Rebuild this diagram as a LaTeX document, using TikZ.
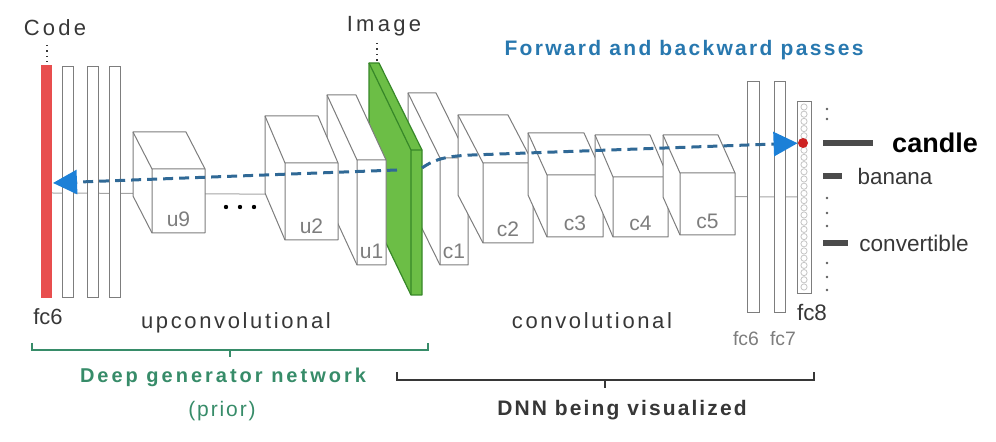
\documentclass[tikz,border=0pt]{standalone}
\usepackage{fontspec}
\setmainfont{Liberation Sans}
\usetikzlibrary{arrows.meta}

\definecolor{boxgray}{RGB}{125,125,125}
\definecolor{codered}{RGB}{232,78,78}
\definecolor{dotred}{RGB}{205,35,35}
\definecolor{slabgreen}{RGB}{108,190,70}
\definecolor{slabdark}{RGB}{55,135,40}
\definecolor{passblue}{RGB}{48,105,150}
\definecolor{tipblue}{RGB}{28,128,215}
\definecolor{titleblue}{RGB}{40,120,175}
\definecolor{priorgreen}{RGB}{55,140,105}
\definecolor{textdark}{RGB}{55,55,55}

\tikzset{
    layerbox/.style={draw=boxgray, fill=white, line width=0.5pt, line join=round},
    layerbar/.style={draw=boxgray, fill=white, line width=0.5pt},
    layerlabel/.style={text=boxgray, font=\fontsize{10.5}{12}\selectfont, inner sep=0pt},
    spaced/.style={inner sep=0pt, font=\fontsize{11}{13}\selectfont\addfontfeature{LetterSpace=#1}},
    pass/.style={passblue, line width=1.5pt, dash pattern=on 5pt off 3pt,
        -{Triangle[length=12pt, width=12pt, fill=tipblue, color=tipblue, sep=0pt]}},
    scorebar/.style={draw=textdark!90, line width=2.6pt},
    reddot/.style={circle, fill=dotred, minimum size=5pt, inner sep=0pt},
}

\begin{document}
\begin{tikzpicture}[x=0.5pt, y=-0.5pt]
        \useasboundingbox (0,0) rectangle (996,442);

        % axis behind the layers
        \draw[boxgray!70, line width=0.5pt] (52,193) -- (797,197);

        % generator: fc layers
        \fill[codered] (41,65) rectangle (52,298);
        \foreach \x in {62,87,109}
            \draw[layerbar] (\x,67) rectangle ({\x+11},298);
        \draw[textdark, dotted, line width=0.7pt] (47,45) -- (47,62);

        % convolutional boxes (right ones in front)
        \foreach \xa/\ya/\xb/\yb/\dx/\dy/\lab in {
                440/158/468/265/32/65/c1, 483/163/533/243/25/48/c2,
                547/175/603/237/19/42/c3, 613/177/668/237/18/42/c4,
                680/173/735/235/17/38/c5} {
            \filldraw[layerbox] ({\xa-\dx},{\ya-\dy}) -- ({\xb-\dx},{\ya-\dy}) -- (\xb,\ya) -- (\xb,\yb)
                -- (\xa,\yb) -- ({\xa-\dx},{\yb-\dy}) -- cycle;
            \draw[layerbox, fill=none] ({\xa-\dx},{\ya-\dy}) -- (\xa,\ya) -- (\xb,\ya) (\xa,\ya) -- (\xa,\yb);
            \node[layerlabel] (\lab) at ({(\xa+\xb)/2},{\yb-14}) {\lab};
        }

        % image slab
        \filldraw[fill=slabgreen, draw=slabdark, line width=0.6pt, line join=round]
            (369,63) -- (379,63) -- (422,150) -- (422,295) -- (411,295) -- (369,208) -- cycle;
        \draw[slabdark, line width=0.6pt] (369,63) -- (411,150) -- (422,150) (411,150) -- (411,295);
        \draw[textdark, dotted, line width=0.7pt] (377,43) -- (377,62);

        % upconvolutional boxes (left ones in front)
        \foreach \xa/\ya/\xb/\yb/\dx/\dy/\lab in {
                357/160/386/265/30/65/u1, 285/163/338/240/20/47/u2,
                152/169/205/233/19/37/u9} {
            \filldraw[layerbox] ({\xa-\dx},{\ya-\dy}) -- ({\xb-\dx},{\ya-\dy}) -- (\xb,\ya) -- (\xb,\yb)
                -- (\xa,\yb) -- ({\xa-\dx},{\yb-\dy}) -- cycle;
            \draw[layerbox, fill=none] ({\xa-\dx},{\ya-\dy}) -- (\xa,\ya) -- (\xb,\ya) (\xa,\ya) -- (\xa,\yb);
            \node[layerlabel] (\lab) at ({(\xa+\xb)/2},{\yb-14}) {\lab};
        }
        \foreach \x in {226,240,254}
            \fill[black] (\x,207) circle[radius=2.2];

        % classifier: fc layers
        \draw[layerbar] (747,82) rectangle (759,313);
        \draw[layerbar] (774,82) rectangle (785,313);
        \draw[layerbar] (797,102) rectangle (811,294);
        \foreach \k in {0,...,25}
            \draw[boxgray!45, line width=0.4pt] (804,{107+7.2*\k}) circle[radius=3.1];
        \node[reddot] (candledot) at (803,143) {};

        % class scores
        \foreach \y in {109,119,198,213,226,263,277,290}
            \fill[textdark!80] (827,\y) circle[radius=1.3];
        \draw[scorebar] (823,143) -- (873,143);
        \draw[scorebar] (823,176) -- (842,176);
        \draw[scorebar] (823,243) -- (848,243);
        \node[inner sep=0pt, font=\fontsize{13.5}{15}\selectfont\bfseries] (candle) at (935,143) {candle};
        \node[inner sep=0pt, text=textdark, font=\fontsize{11.2}{13}\selectfont] (banana) at (895,176) {banana};
        \node[inner sep=0pt, text=textdark, font=\fontsize{11.3}{13}\selectfont] (convertible) at (914,243) {convertible};

        % passes
        \coordinate (slabL) at (397,170);
        \coordinate (codeIn) at (53,183);
        \coordinate (slabR) at (422,168);
        \draw[pass] (slabL) -- (codeIn);
        \draw[pass] (slabR) .. controls (436,158) and (450,156) .. (472,155) -- (candledot);

        % labels
        \node[spaced=15, text=textdark] (code) at (55,28) {Code};
        \node[spaced=15, text=textdark] (image) at (384,26) {Image};
        \node[spaced=11, text=titleblue, font=\fontsize{10.5}{12}\selectfont\bfseries\addfontfeature{LetterSpace=11}]
            (passes) at (684,50) {Forward and backward passes};
        \node[inner sep=0pt, text=textdark, font=\fontsize{11}{13}\selectfont] (fc6g) at (48,317) {fc6};
        \node[spaced=12, text=textdark] (upconv) at (236,323) {upconvolutional};
        \node[spaced=12, text=textdark] (conv) at (592,321) {convolutional};
        \node[inner sep=0pt, text=boxgray, font=\fontsize{9.7}{11}\selectfont] (fc6c) at (746,339) {fc6};
        \node[inner sep=0pt, text=boxgray, font=\fontsize{9.7}{11}\selectfont] (fc7c) at (783,339) {fc7};
        \node[inner sep=0pt, text=textdark, font=\fontsize{11.2}{13}\selectfont] (fc8c) at (812,313) {fc8};

        % braces
        \draw[priorgreen, line width=0.75pt] (32,343) -- (32,350) -- (428,350) -- (428,343) (230,350) -- (230,357);
        \draw[textdark, line width=0.75pt] (397,372) -- (397,380) -- (814,380) -- (814,372) (605,380) -- (605,388);
        \node[inner sep=0pt, text=priorgreen, font=\fontsize{10}{12}\selectfont\bfseries\addfontfeature{LetterSpace=15}]
            (generator) at (223,377) {Deep generator network};
        \node[inner sep=0pt, text=priorgreen, font=\fontsize{10.5}{12}\selectfont\addfontfeature{LetterSpace=9}]
            (prior) at (222,411) {(prior)};
        \node[inner sep=0pt, text=textdark, font=\fontsize{10.5}{12}\selectfont\bfseries\addfontfeature{LetterSpace=10}]
            (dnn) at (622,410) {DNN being visualized};
\end{tikzpicture}
\end{document}
